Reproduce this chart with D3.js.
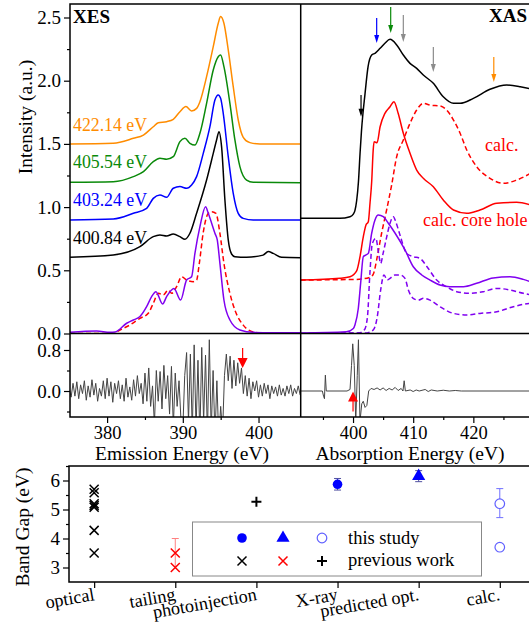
<!DOCTYPE html>
<html><head><meta charset="utf-8">
<script src="https://cdn.jsdelivr.net/npm/d3@7/dist/d3.min.js"></script>
<style>body{margin:0;background:#fff} text{font-family:"Liberation Serif","Times New Roman",serif}</style>
</head><body><svg id="c" width="529" height="623"></svg>
<script>
// ---------------- DATA ----------------
// XES spectra [emission energy eV, intensity]
const xes422 = [[375.1,1.499],[380.82,1.505],[383.47,1.544],[384.8,1.570],[386.1,1.636],[386.76,1.668],[387.86,1.676],[388.74,1.694],[389.62,1.755],[390.41,1.795],[391.16,1.760],[391.82,1.781],[392.26,1.834],[393.14,2.032],[394.02,2.269],[394.68,2.454],[394.99,2.507],[395.43,2.454],[396.0,2.243],[396.66,1.953],[397.32,1.689],[397.98,1.552],[398.86,1.510],[400.18,1.499],[405.6,1.499]];
const xes405 = [[375.1,1.196],[380.82,1.201],[383.47,1.241],[384.8,1.280],[386.1,1.359],[386.98,1.386],[387.86,1.378],[388.74,1.399],[389.62,1.518],[390.28,1.544],[390.94,1.505],[391.6,1.491],[392.26,1.584],[393.14,1.821],[394.02,2.085],[394.68,2.190],[394.99,2.203],[395.43,2.111],[396.22,1.821],[396.88,1.531],[397.54,1.320],[398.42,1.214],[399.3,1.196],[405.6,1.193]];
const xes403 = [[375.1,0.898],[380.82,0.906],[383.47,0.951],[385.22,0.990],[386.1,1.069],[386.98,1.096],[387.86,1.077],[388.74,1.149],[389.62,1.162],[390.5,1.149],[391.16,1.175],[391.82,1.241],[392.7,1.425],[393.58,1.636],[394.24,1.847],[394.68,1.887],[394.99,1.861],[395.34,1.742],[396.0,1.399],[396.66,1.109],[397.32,0.951],[397.98,0.911],[399.3,0.898],[405.6,0.898]];
const xes400 = [[375.1,0.603],[380.82,0.621],[384.34,0.687],[386.1,0.766],[386.98,0.779],[387.86,0.771],[388.74,0.787],[389.62,0.766],[390.28,0.745],[390.94,0.793],[391.82,0.951],[393.14,1.214],[394.02,1.425],[394.46,1.531],[394.78,1.597],[395.12,1.478],[395.56,1.056],[396.0,0.740],[396.44,0.629],[396.88,0.608],[398.42,0.603],[400.6,0.62],[401.28,0.648],[401.94,0.634],[403.04,0.603],[405.6,0.60]];
const xesCalc = [[375.1,0.009],[378.62,0.02],[380.4,0.009],[381.04,0.012],[382.58,0.081],[383.47,0.107],[384.34,0.134],[385.22,0.212],[385.88,0.292],[386.45,0.331],[387.33,0.233],[387.86,0.292],[388.83,0.357],[389.71,0.265],[390.5,0.423],[391.16,0.449],[391.6,0.634],[392.26,0.845],[393.01,1.003],[393.36,0.951],[394.24,0.793],[394.55,0.74],[394.9,0.555],[395.43,0.265],[396.22,0.107],[397.54,0.028],[399.3,0.009],[405.6,0.005]];
const xesCalcCH = [[375.1,0.0],[380.8,0.0],[381.7,0.028],[383.03,0.068],[384.34,0.12],[385.44,0.16],[386.1,0.239],[386.76,0.318],[387.42,0.305],[388.08,0.344],[388.52,0.318],[389.18,0.37],[389.84,0.449],[390.5,0.423],[391.38,0.41],[391.82,0.423],[392.17,0.55],[392.7,0.80],[393.36,0.951],[393.8,0.964],[394.37,0.951],[394.9,0.793],[395.43,0.555],[396.22,0.318],[396.88,0.185],[397.98,0.066],[399.3,0.013],[401.06,0.0],[405.6,0.0]];
// XAS spectra [absorption energy eV, intensity]
const xasExp = [[391.3,0.911],[397.8,0.911],[399.5,0.924],[400.05,0.945],[400.3,0.97],[400.6,1.05],[400.9,1.2],[401.16,1.42],[401.4,1.6],[402.0,1.90],[402.5,2.111],[403.1,2.203],[403.65,2.217],[404.5,2.256],[405.3,2.296],[406.15,2.327],[407.26,2.283],[408.36,2.203],[409.47,2.137],[410.58,2.098],[411.68,2.045],[413.35,1.979],[415.0,1.873],[416.7,1.821],[417.8,1.821],[420.0,1.860],[422.77,1.932],[425.55,1.966],[427.8,1.953],[430,1.93]];
const xasCoreHole = [[391.3,0.423],[397.83,0.437],[399.5,0.449],[400.6,0.495],[401.16,0.608],[401.71,0.766],[402.15,0.858],[402.54,0.884],[402.82,1.03],[403.1,1.2],[403.35,1.45],[403.5,1.517],[404.0,1.51],[404.5,1.636],[405.3,1.742],[406.15,1.794],[406.8,1.834],[407.5,1.742],[408.36,1.584],[409.47,1.426],[410.58,1.293],[411.68,1.228],[413.35,1.161],[415.0,1.056],[416.7,0.977],[418.9,0.951],[421.1,0.977],[423.9,1.03],[427.2,1.038],[430,1.01]];
const xasCalc = [[391.3,0.423],[400.6,0.428],[402.82,0.445],[403.37,0.47],[404.03,0.608],[404.75,0.793],[405.58,0.977],[406.4,1.17],[407.26,1.399],[408.36,1.531],[409.47,1.663],[410.58,1.768],[411.68,1.821],[412.8,1.807],[414.45,1.80],[415.55,1.768],[416.7,1.689],[417.8,1.584],[418.9,1.452],[420.55,1.32],[422.77,1.228],[424.98,1.188],[427.2,1.214],[430,1.28]];
const xasPurple = [[391.3,0.003],[398.9,0.013],[400.05,0.04],[400.33,0.07],[400.88,0.2],[401.27,0.4],[401.71,0.608],[402.1,0.62],[402.54,0.634],[403.1,0.793],[403.65,0.898],[404.2,0.937],[405.03,0.924],[405.87,0.872],[407.0,0.793],[408.64,0.661],[410.02,0.528],[411.42,0.463],[412.8,0.423],[414.45,0.384],[416.1,0.37],[418.35,0.37],[420.55,0.397],[423.3,0.44],[426.1,0.449],[428.3,0.428],[430,0.40]];
const xasPurpleDash1 = [[391.3,0.0],[401.0,0.005],[401.9,0.03],[402.4,0.133],[402.8,0.475],[403.2,0.71],[403.8,0.753],[404.2,0.65],[404.6,0.555],[405.0,0.634],[405.6,0.765],[406.15,0.872],[406.7,0.924],[407.1,0.885],[407.8,0.78],[408.9,0.634],[410.0,0.608],[411.1,0.595],[412.3,0.528],[413.9,0.423],[415.55,0.37],[417.24,0.331],[419.45,0.318],[421.66,0.331],[423.9,0.357],[426.1,0.344],[428.3,0.318],[430,0.30]];
const xasPurpleDash2 = [[391.3,0.0],[402.0,0.003],[403.37,0.028],[404.03,0.133],[404.59,0.344],[405.14,0.463],[405.7,0.423],[406.15,0.436],[406.97,0.463],[407.8,0.463],[408.64,0.436],[409.2,0.344],[410.0,0.278],[410.86,0.264],[411.7,0.278],[412.8,0.264],[414.45,0.212],[416.7,0.159],[418.9,0.146],[421.1,0.159],[423.9,0.172],[426.65,0.212],[429.25,0.238],[430,0.24]];
// XES difference (375.0 .. 405.5 eV, 0.25 eV step)
const xesDiffStart = 375.0, xesDiffStep = 0.25;
const xesDiff = [0.05,-0.12,0.15,-0.1,0.18,-0.15,0.12,-0.05,0.2,-0.18,0.1,-0.12,0.22,-0.08,0.15,-0.2,0.05,-0.1,0.2,-0.15,
 0.25,-0.1,0.18,-0.22,0.15,-0.05,0.2,-0.15,0.12,-0.2,0.25,-0.12,0.08,-0.18,0.22,-0.1,0.3,-0.05,0.15,-0.25,
 0.35,-0.2,0.45,-0.3,0.1,-0.65,0.4,-0.2,0.38,-0.35,0.5,-0.15,0.3,-0.45,0.48,-0.7,0.35,-0.3,0.2,-0.55,
 -0.75,0.3,0.75,-0.6,0.72,-0.8,0.9,-0.75,0.6,-0.9,0.85,-0.6,0.7,-0.85,1.0,-0.8,0.4,-0.9,0.2,-0.95,
 -0.3,-0.8,0.3,0.72,0.2,0.68,0.05,0.6,0.1,0.55,0.15,0.45,-0.05,0.3,-0.1,0.25,-0.15,0.18,0.0,0.2,
 -0.12,0.12,-0.1,0.15,-0.05,0.12,-0.15,0.1,-0.05,0.08,-0.1,0.12,-0.08,0.05,-0.1,0.1,-0.05,0.12,-0.1,0.05,-0.05,0.1,-0.08];
// XAS difference [eV, value]
const xasDiff = [[391.3,0],[394.9,0],[395.1,-0.1],[395.25,-0.15],[395.4,0.31],[395.55,0.0],[399.0,0.0],[399.5,0.03],[399.75,0.5],[399.95,0.92],[400.2,0.5],[400.45,-0.6],[400.7,0.3],[400.9,1.0],[401.15,-0.6],[401.45,-0.25],[401.7,-0.2],[402.0,-0.32],[402.3,-0.28],[402.6,0.0],[403.0,0.05],[403.5,0.03],[404,0.06],[404.5,0.02],[405,0.06],[405.5,0.01],[406,0.05],[406.5,0.02],[407,0.07],[407.5,0.01],[408,0.05],[408.3,0.0],[408.5,0.2],[408.7,0.0],[409.5,0.02],[410,-0.01],[410.5,0.02],[411,0.0],[412,0.03],[412.5,-0.01],[413,0.02],[414,0.0],[415,0.015],[416,0.0],[417,0.01],[418,0],[430,0]];
// excitation arrows in XAS panel [eV, top, tip]
const xasArrows = [[401.33,1.887,1.715],[403.93,2.496,2.298],[406.26,2.583,2.377],[408.36,2.52,2.306],[413.35,2.267,2.069],[423.4,2.187,1.99]];
const xesArrow = [397.9, 0.84, 0.45];
const xasDiffArrow = [400.0, -0.4, -0.01];
// Band gap panel
const bgCats = ["optical","tailing","photoinjection","X-ray","predicted opt.","calc."];
const opticalPrev = [5.7,5.58,5.2,5.14,5.08,4.28,3.5];
const tailingPrev = [3.5,3.0];
const tailingErr = [3.0,4.0];
const photoPrev = [5.27];
const xrayStudy = [5.87];
const xrayErr = [5.67,6.07];
const predStudy = [6.15];
const predErr = [5.96,6.34];
const calcStudy = [5.2,3.7];
const calcErr = [4.72,5.72];

// ---------------- DRAW ----------------
const svg = d3.select("#c");
const C = {orange:"#ff8c00", green:"#0a8a0a", blue:"#0000ff", purple:"#8000f0", red:"#ff0000", gray:"#8c8c8c"};
const xL = d3.scaleLinear().domain([375.1,405.57]).range([70,300.7]);
const xR = d3.scaleLinear().domain([391.3,430]).range([300.7,533.5]);
const yT = d3.scaleLinear().domain([0,2.5]).range([333.5,17.5]);
const yM = d3.scaleLinear().domain([-0.507,1.112]).range([417,334]);

const defs = svg.append("defs");
function clip(id,x,y,w,h){defs.append("clipPath").attr("id",id).append("rect").attr("x",x).attr("y",y).attr("width",w).attr("height",h);}
clip("cTL",70,4,230.7,329.5); clip("cTR",300.7,4,230,329.5);
clip("cML",70,333.5,230.7,83.5); clip("cMR",300.7,333.5,230,83.5);

function drawLine(g,data,xs,ys,color,dash,w){
  g.append("path").datum(data).attr("fill","none").attr("stroke",color).attr("stroke-width",w||1.5)
   .attr("stroke-dasharray",dash||null).attr("stroke-linejoin","round")
   .attr("d",d3.line().x(d=>xs(d[0])).y(d=>ys(d[1])).curve(d3.curveMonotoneX));
}
const gTL = svg.append("g").attr("clip-path","url(#cTL)");
drawLine(gTL,xes422,xL,yT,C.orange);
drawLine(gTL,xes405,xL,yT,C.green);
drawLine(gTL,xes403,xL,yT,C.blue);
drawLine(gTL,xes400,xL,yT,"#000");
drawLine(gTL,xesCalcCH,xL,yT,C.red,"5,3");
drawLine(gTL,xesCalc,xL,yT,C.purple);

const gTR = svg.append("g").attr("clip-path","url(#cTR)");
drawLine(gTR,xasCalc,xR,yT,C.red,"5,3");
drawLine(gTR,xasCoreHole,xR,yT,C.red);
drawLine(gTR,xasPurpleDash2,xR,yT,C.purple,"5,3");
drawLine(gTR,xasPurpleDash1,xR,yT,C.purple,"5,3");
drawLine(gTR,xasPurple,xR,yT,C.purple);
drawLine(gTR,xasExp,xR,yT,"#000");

// arrows
const arrowCols = ["#000",C.blue,C.green,C.gray,C.gray,C.orange];
function arrow(g,x,y1,y2,col,hw,hl,w){
  const dir = y2>y1?1:-1;
  g.append("line").attr("x1",x).attr("x2",x).attr("y1",y1).attr("y2",y2-dir*hl*0.5).attr("stroke",col).attr("stroke-width",w||1.2);
  g.append("path").attr("d",`M${x-hw},${y2-dir*hl}L${x+hw},${y2-dir*hl}L${x},${y2}Z`).attr("fill",col);
}
xasArrows.forEach((a,i)=>arrow(svg,xR(a[0]),yT(a[1]),yT(a[2]),arrowCols[i],2.5,8,1.2));

// difference spectra
const gML = svg.append("g").attr("clip-path","url(#cML)");
gML.append("path").datum(xesDiff.map((v,i)=>[xesDiffStart+i*xesDiffStep,v])).attr("fill","none").attr("stroke","#444").attr("stroke-width",1)
  .attr("d",d3.line().x(d=>xL(d[0])).y(d=>yM(d[1])));
const gMR = svg.append("g").attr("clip-path","url(#cMR)");
gMR.append("path").datum(xasDiff).attr("fill","none").attr("stroke","#444").attr("stroke-width",1)
  .attr("d",d3.line().x(d=>xR(d[0])).y(d=>yM(d[1])));
arrow(svg,xL(xesArrow[0]),yM(xesArrow[1]),yM(xesArrow[2]),C.red,5,10,1.2);
arrow(svg,xR(xasDiffArrow[0]),yM(xasDiffArrow[1]),yM(xasDiffArrow[2]),C.red,5,10,1.2);

// frames
const fr = svg.append("g").attr("stroke","#000").attr("stroke-width",1.5).attr("fill","none");
fr.append("rect").attr("x",70).attr("y",4).attr("width",470).attr("height",413);
fr.append("line").attr("x1",300.7).attr("x2",300.7).attr("y1",4).attr("y2",417);
fr.append("line").attr("x1",70).attr("x2",540).attr("y1",333.5).attr("y2",333.5);

function styleAxis(g,fs){g.select(".domain").remove();g.selectAll("line").attr("stroke","#000").attr("stroke-width",1.2);
  g.selectAll("text").attr("font-size",fs||18.5).attr("fill","#000").attr("font-family","Liberation Serif");}
// top-left y axis
let g = svg.append("g").attr("transform","translate(70,0)").call(d3.axisLeft(yT).tickValues([0,0.5,1,1.5,2,2.5]).tickFormat(d3.format(".1f")).tickSize(6).tickPadding(3));
styleAxis(g,19);
g = svg.append("g").attr("transform","translate(70,0)").call(d3.axisLeft(yT).tickValues([0.25,0.75,1.25,1.75,2.25]).tickFormat("").tickSize(3));
styleAxis(g);
// middle y axis
g = svg.append("g").attr("transform","translate(70,0)").call(d3.axisLeft(yM).tickValues([0,0.8]).tickFormat(d3.format(".1f")).tickSize(6).tickPadding(3));
styleAxis(g,19);
g = svg.append("g").attr("transform","translate(70,0)").call(d3.axisLeft(yM).tickValues([-0.4,0.4]).tickFormat("").tickSize(3));
styleAxis(g);
// bottom x axes
g = svg.append("g").attr("transform","translate(0,417)").call(d3.axisBottom(xL).tickValues([380,390,400]).tickSize(6).tickPadding(3));
styleAxis(g);
g = svg.append("g").attr("transform","translate(0,417)").call(d3.axisBottom(xL).tickValues([385,395]).tickFormat("").tickSize(3));
styleAxis(g);
g = svg.append("g").attr("transform","translate(0,417)").call(d3.axisBottom(xR).tickValues([400,410,420]).tickSize(6).tickPadding(3));
styleAxis(g);
g = svg.append("g").attr("transform","translate(0,417)").call(d3.axisBottom(xR).tickValues([395,405,415,425]).tickFormat("").tickSize(3));
styleAxis(g);

// texts
function txt(x,y,s,opt){const t=svg.append("text").attr("x",x).attr("y",y).text(s).attr("font-size",opt.fs||18).attr("fill",opt.c||"#000");
  if(opt.a)t.attr("text-anchor",opt.a); if(opt.b)t.attr("font-weight","bold"); if(opt.r!==undefined)t.attr("transform",`rotate(${opt.r},${x},${y})`); return t;}
txt(73,23,"XES",{fs:19,b:1});
txt(527,22,"XAS",{fs:19,b:1,a:"end"});
txt(73,131,"422.14 eV",{fs:17.8,c:C.orange});
txt(73,168,"405.54 eV",{fs:17.8,c:C.green});
txt(73,205.5,"403.24 eV",{fs:17.8,c:C.blue});
txt(73,243.5,"400.84 eV",{fs:17.8,c:"#000"});
txt(485,151,"calc.",{fs:18,c:C.red});
txt(423,226,"calc. core hole",{fs:18,c:C.red});
txt(32,117,"Intensity (a.u.)",{fs:19.5,a:"middle",r:-90});
txt(182,459.5,"Emission Energy (eV)",{fs:19.5,a:"middle"});
txt(410,459.5,"Absorption Energy (eV)",{fs:19.5,a:"middle"});

// ---------------- band gap panel ----------------
const xb = d3.scaleLinear().domain([-0.31,5.36]).range([69,529]);
const yb = d3.scaleLinear().domain([2.5,6.5]).range([582,466]);
const gb = svg.append("g");
gb.append("path").attr("d",`M540,466H69V582H540`).attr("fill","none").attr("stroke","#000").attr("stroke-width",1.5);
g = svg.append("g").attr("transform","translate(69,0)").call(d3.axisLeft(yb).tickValues([3,4,5,6]).tickFormat(d3.format("d")).tickSize(6).tickPadding(3));
styleAxis(g,19);
g = svg.append("g").attr("transform","translate(69,0)").call(d3.axisLeft(yb).tickValues([3.5,4.5,5.5,6.5]).tickFormat("").tickSize(3));
styleAxis(g);
g = svg.append("g").attr("transform","translate(0,582)").call(d3.axisBottom(xb).tickValues(d3.range(bgCats.length)).tickFormat("").tickSize(6));
styleAxis(g);
bgCats.forEach((c,i)=>{txt(xb(i)+1,600,c,{fs:18.2,a:"end",r:-10});});
txt(29,527,"Band Gap (eV)",{fs:19.5,a:"middle",r:-90});

const X = "M-4.5,-4.5L4.5,4.5M-4.5,4.5L4.5,-4.5", P="M-5,0L5,0M0,-5L0,5";
function mark(x,y,d,col,w){gb.append("path").attr("transform",`translate(${x},${y})`).attr("d",d).attr("stroke",col).attr("stroke-width",w||1.5).attr("fill","none");}
function errbar(i,lo,hi,col,caps){const x=xb(i);gb.append("line").attr("x1",x).attr("x2",x).attr("y1",yb(lo)).attr("y2",yb(hi)).attr("stroke",col).attr("stroke-width",1);
  (caps||[lo,hi]).forEach(v=>gb.append("line").attr("x1",x-3.5).attr("x2",x+3.5).attr("y1",yb(v)).attr("y2",yb(v)).attr("stroke",col).attr("stroke-width",1));}
opticalPrev.forEach(v=>mark(xb(0),yb(v),X,"#000"));
errbar(1,tailingErr[0],tailingErr[1],"#ff8080",[tailingErr[1]]);
tailingPrev.forEach(v=>mark(xb(1),yb(v),X,C.red));
photoPrev.forEach(v=>mark(xb(2),yb(v),P,"#000",2));
errbar(3,xrayErr[0],xrayErr[1],"#5050a0");
xrayStudy.forEach(v=>gb.append("circle").attr("cx",xb(3)).attr("cy",yb(v)).attr("r",4.8).attr("fill",C.blue));
errbar(4,predErr[0],predErr[1],"#5050a0");
predStudy.forEach(v=>gb.append("path").attr("transform",`translate(${xb(4)},${yb(v)})`).attr("d",d3.symbol(d3.symbolTriangle,75)()).attr("fill",C.blue));
errbar(5,calcErr[0],calcErr[1],"#7070ff");
calcStudy.forEach(v=>gb.append("circle").attr("cx",xb(5)).attr("cy",yb(v)).attr("r",4.8).attr("fill","#fff").attr("stroke","#6060ff").attr("stroke-width",1.2));

// legend
const lg = svg.append("g");
lg.append("rect").attr("x",192.5).attr("y",522).attr("width",289).attr("height",54).attr("fill","#fff").attr("stroke","#888").attr("stroke-width",1);
lg.append("circle").attr("cx",242).attr("cy",538).attr("r",4.8).attr("fill",C.blue);
lg.append("path").attr("transform","translate(283,538)").attr("d",d3.symbol(d3.symbolTriangle,75)()).attr("fill",C.blue);
lg.append("circle").attr("cx",322).attr("cy",538).attr("r",4.8).attr("fill","#fff").attr("stroke","#6060ff").attr("stroke-width",1.2);
lg.append("path").attr("transform","translate(242,561)").attr("d",X).attr("stroke","#000").attr("stroke-width",1.5);
lg.append("path").attr("transform","translate(283,561)").attr("d",X).attr("stroke",C.red).attr("stroke-width",1.5);
lg.append("path").attr("transform","translate(322,561)").attr("d",P).attr("stroke","#000").attr("stroke-width",2);
txt(348,544,"this study",{fs:18.5});
txt(348,566,"previous work",{fs:18.5});
</script></body></html>
